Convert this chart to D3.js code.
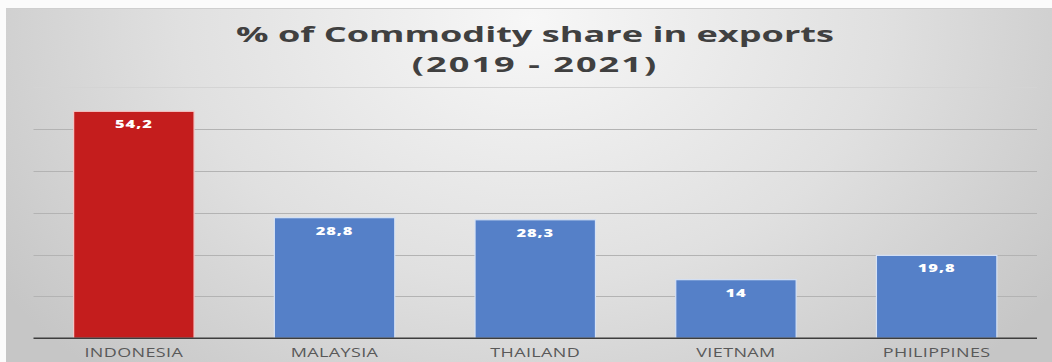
<!DOCTYPE html>
<html>
<head>
<meta charset="utf-8">
<script src="https://cdn.jsdelivr.net/npm/d3@7"></script>
<style>
  html, body { margin: 0; padding: 0; background: #fbfbfb; }
  svg { display: block; }
</style>
</head>
<body>
<svg id="chart" width="1052" height="362"></svg>
<script>
// Commodity share in exports, average 2019-2021 (%)
const categories = ["INDONESIA", "MALAYSIA", "THAILAND", "VIETNAM", "PHILIPPINES"];
const shares = [54.2, 28.8, 28.3, 14, 19.8];
const valueLabels = ["54,2", "28,8", "28,3", "14", "19,8"];
const highlight = "INDONESIA";
const yTicks = [0, 10, 20, 30, 40, 50, 60];
const titleLines = ["% of Commodity share in exports", "(2019 - 2021)"];

const W = 1052, H = 362;
const stretch = 1.5;        // horizontal stretch applied to labels
const titleStretch = 1.68;  // horizontal stretch applied to the title
const svg = d3.select("#chart");

// panel background with soft radial shading
const defs = svg.append("defs");
const grad = defs.append("radialGradient")
  .attr("id", "bg").attr("gradientUnits", "userSpaceOnUse")
  .attr("cx", 530).attr("cy", 20).attr("r", 640)
  .attr("gradientTransform", "translate(530,20) scale(1,0.75) translate(-530,-20)");
grad.append("stop").attr("offset", "0%").attr("stop-color", "#f7f7f7");
grad.append("stop").attr("offset", "55%").attr("stop-color", "#e0e0e0");
grad.append("stop").attr("offset", "100%").attr("stop-color", "#c6c6c6");

svg.append("rect").attr("x", 6).attr("y", 8).attr("width", W - 6).attr("height", H - 8)
  .attr("fill", "url(#bg)");
svg.append("line").attr("x1", 6).attr("x2", W).attr("y1", 8.5).attr("y2", 8.5)
  .attr("stroke", "#cfcfcf").attr("stroke-width", 1);

const x = d3.scaleBand().domain(categories).range([33.5, 1037])
  .paddingInner(0.4).paddingOuter(0.2);
const y = d3.scaleLinear().domain([0, 60]).range([338.3, 87]);

// horizontal gridlines
svg.append("g").selectAll("line").data(yTicks.filter(d => d > 0)).join("line")
  .attr("x1", 33.5).attr("x2", 1037)
  .attr("y1", d => Math.round(y(d)) + 0.5).attr("y2", d => Math.round(y(d)) + 0.5)
  .attr("stroke", d => d === 60 ? "#d4d4d4" : "#b3b3b3").attr("stroke-width", 1.2);

// bars
svg.append("g").selectAll("rect").data(categories).join("rect")
  .attr("x", d => x(d)).attr("width", x.bandwidth())
  .attr("y", (d, i) => y(shares[i]))
  .attr("height", (d, i) => y(0) - y(shares[i]))
  .attr("fill", d => d === highlight ? "#c41d1d" : "#5580c8")
  .attr("stroke", d => d === highlight ? "#f3c9c9" : "#d6e2f5")
  .attr("stroke-width", 1.2);

// baseline
svg.append("line").attr("x1", 33.5).attr("x2", 1037)
  .attr("y1", y(0)).attr("y2", y(0))
  .attr("stroke", "#3d3d3d").attr("stroke-width", 1.6);

function stretchedText(g, px, py, s) {
  return g.attr("transform", `translate(${px},${py}) scale(${s},1)`)
    .attr("text-anchor", "middle");
}

// value labels inside the bar tops
svg.append("g").selectAll("text").data(categories).join("text")
  .each(function (d, i) {
    stretchedText(d3.select(this), x(d) + x.bandwidth() / 2, y(shares[i]) + 17, stretch);
  })
  .attr("font-family", "Open Sans").attr("font-weight", 800)
  .attr("font-size", 11).attr("fill", "#ffffff")
  .attr("letter-spacing", 0.6)
  .text((d, i) => valueLabels[i]);

// category labels
svg.append("g").selectAll("text").data(categories).join("text")
  .each(function (d) {
    stretchedText(d3.select(this), x(d) + x.bandwidth() / 2, 357, stretch);
  })
  .attr("font-family", "Open Sans").attr("font-size", 12)
  .attr("letter-spacing", 0.25)
  .attr("fill", "#595959")
  .text(d => d);

// title
const titleY = [42, 71.5];
svg.append("g").selectAll("text").data(titleLines).join("text")
  .each(function (d, i) { stretchedText(d3.select(this), 535, titleY[i], titleStretch); })
  .attr("font-family", "Open Sans").attr("font-weight", 700)
  .attr("font-size", 21.5).attr("fill", "#404040")
  .attr("letter-spacing", (d, i) => i === 1 ? 1.2 : 0)
  .text(d => d);
</script>
</body>
</html>
